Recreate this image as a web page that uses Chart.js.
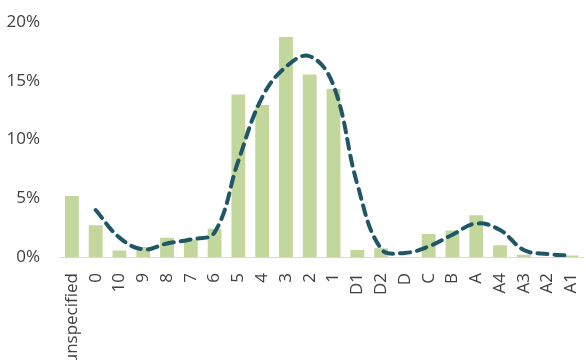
<!DOCTYPE html>
<html>
<head>
<meta charset="utf-8">
<script src="https://cdn.jsdelivr.net/npm/chart.js@4/dist/chart.umd.min.js"></script>
<style>
  html, body { margin: 0; padding: 0; background: #ffffff; overflow: hidden; }
  #wrap { width: 600px; height: 360px; }
</style>
</head>
<body>
<div id="wrap"><canvas id="chart" width="600" height="360"></canvas></div>
<script>
// Share by grade category (%)
const categories = ['unspecified', '0', '10', '9', '8', '7', '6', '5', '4', '3', '2', '1',
  'D1', 'D2', 'D', 'C', 'B', 'A', 'A4', 'A3', 'A2', 'A1'];
const barValues = [5.2, 2.7, 0.55, 0.85, 1.65, 1.5, 2.4, 13.85, 12.95, 18.75, 15.55, 14.3,
  0.6, 0.75, 0, 1.95, 2.25, 3.55, 1.0, 0.2, 0, 0.12];
const lineValues = [null, 4.0, 1.65, 0.65, 1.15, 1.5, 2.1, 8.2, 13.6, 16.2, 17.1, 14.6,
  6.2, 0.7, 0.35, 0.9, 1.9, 2.85, 2.3, 0.6, 0.25, 0.12];
const yTicks = [0, 5, 10, 15, 20];

const textColor = '#404040';
const font = { family: '"Open Sans", "Liberation Sans", sans-serif', size: 17 };

new Chart(document.getElementById('chart'), {
  type: 'bar',
  data: {
    labels: categories,
    datasets: [
      {
        type: 'line',
        data: lineValues,
        borderColor: '#1f5766',
        borderWidth: 4,
        borderDash: [10, 7],
        borderCapStyle: 'round',
        tension: 0.4,
        pointRadius: 0,
        fill: false,
        order: 0
      },
      {
        type: 'bar',
        data: barValues,
        backgroundColor: '#c3d69b',
        borderWidth: 0,
        barPercentage: 1,
        categoryPercentage: 0.58,
        order: 1
      }
    ]
  },
  options: {
    responsive: false,
    animation: false,
    layout: { padding: { top: 21, right: 10, left: 0, bottom: 0 } },
    plugins: { legend: { display: false }, tooltip: { enabled: false } },
    scales: {
      x: {
        grid: { display: false },
        border: { display: true, color: '#d9d9d9', width: 1 },
        ticks: {
          color: textColor, font: font,
          minRotation: 90, maxRotation: 90, autoSkip: false, padding: 8
        },
        afterFit(scale) { scale.height = 103; }
      },
      y: {
        min: 0, max: 20,
        afterBuildTicks(scale) { scale.ticks = yTicks.map(v => ({ value: v })); },
        grid: { display: false },
        border: { display: false },
        ticks: {
          color: textColor, font: font, padding: 12,
          callback: v => v + '%'
        },
        afterFit(scale) { scale.width = 60; }
      }
    }
  }
});
</script>
</body>
</html>
